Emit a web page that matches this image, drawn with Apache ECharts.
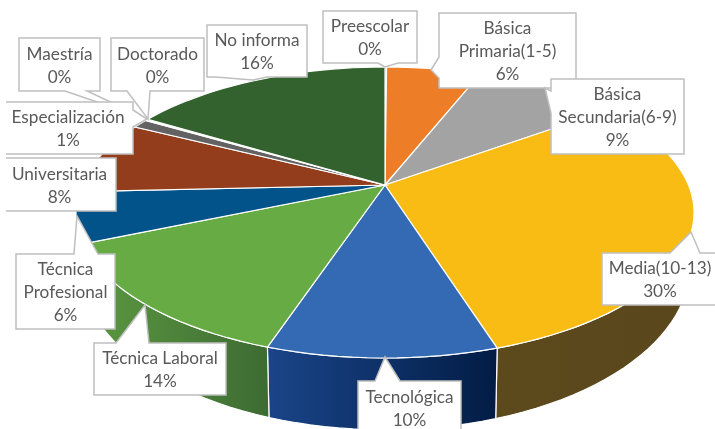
<!DOCTYPE html>
<html>
<head>
<meta charset="utf-8">
<style>
  html, body { margin: 0; padding: 0; background: #fff; }
  #main { width: 715px; height: 429px; }
</style>
<script src="https://cdn.jsdelivr.net/npm/echarts@6/dist/echarts.min.js"></script>
</head>
<body>
<div id="main"></div>
<script>
// valores (los rotulos redondean a entero)
var categories = ['Preescolar', 'Básica Primaria(1-5)', 'Básica Secundaria(6-9)', 'Media(10-13)', 'Tecnológica', 'Técnica Laboral', 'Técnica Profesional', 'Universitaria', 'Especialización', 'Maestría', 'Doctorado', 'No informa'];
var values = [0.1, 5.9, 9, 30.1, 10.05, 13.5, 5.6, 8.15, 1, 0.1, 0.1, 16.4];
var labelLines = [['Preescolar'], ['Básica', 'Primaria(1-5)'], ['Básica', 'Secundaria(6-9)'], ['Media(10-13)'], ['Tecnológica'], ['Técnica Laboral'], ['Técnica', 'Profesional'], ['Universitaria'], ['Especialización'], ['Maestría'], ['Doctorado'], ['No informa']];
var colors = ['#5b9bd5', '#ed7d26', '#a3a3a3', '#f9bc15', '#336ab3', '#67ab45', '#02538a', '#933d1c', '#636363', '#997300', '#264478', '#33622f'];
// [izquierda, derecha] del degradado de la cara lateral
var sideColors = [null, null, null, ['#5c4a1d', '#5a471c'], ['#1a4589', '#021c45'], ['#5c9a41', '#3d6b33'], null, null, null, null, null, null];

// caja del rotulo [x0, y0, x1, y1] y pico de la flecha [base1, punta, base2]
var boxes = [
  [323, 11, 417, 63], [439, 13, 576, 88], [551, 79, 684, 154], [602, 253, 718, 305],
  [358, 381, 461, 435], [94, 343, 226, 395], [16, 254, 115, 329], [3, 158, 116, 211],
  [3, 102, 133, 154], [19, 38, 100, 91], [111, 38, 204, 91], [207, 25, 307, 77]
];
var pointers = [
  [[378, 63], [385, 67], [398, 63]],
  [[439, 57], [431, 70], [439, 78]],
  [[551, 91], [545, 88], [551, 113]],
  [[670, 253], [691, 232], [700, 253]],
  [[375, 381], [385, 357], [400, 381]],
  [[116, 343], [145, 305], [149, 343]],
  [[74, 254], [77, 216], [98, 254]],
  null,
  [[133, 110], [147, 119], [133, 127]],
  [[65, 91], [147, 119], [87, 91]],
  [[127, 91], [148, 119], [150, 91]],
  [[215, 77], [253, 80], [267, 77]]
];
// orden de dibujo de los rotulos (Especializacion encima de las flechas de arriba)
var labelOrder = [9, 10, 8, 7, 11, 0, 1, 2, 3, 4, 6, 5];

// proyeccion en perspectiva del circulo: cara superior y base
var topFace = { cx: 385, cy: 185, a: 303.5, b: 140.3, k: 0.189 };
var baseFace = { cx: 385, cy: 235, a: 299.5, b: 158, k: 0.189 };

var total = values.reduce(function (s, v) { return s + v; }, 0);
var starts = [];
var acc = 0;
values.forEach(function (v) {
  starts.push(acc);
  acc += v;
});

function project(face, pct) {
  var t = pct / total * Math.PI * 2;
  var x = Math.sin(t), y = Math.cos(t);
  var w = 1 + face.k * y;
  return [face.cx + face.a * x / w, face.cy - face.b * y / w];
}

function arc(face, from, to) {
  var pts = [];
  var n = Math.max(2, Math.ceil((to - from) * 1.5));
  for (var i = 0; i <= n; i++) {
    pts.push(project(face, from + (to - from) * i / n));
  }
  return pts;
}

function renderSide(params, api) {
  var i = params.dataIndex;
  var c = sideColors[i];
  if (!c) return null;
  var from = api.value(0), to = api.value(1);
  var top = arc(topFace, from, to);
  var base = arc(baseFace, from, to).reverse();
  var all = top.concat(base);
  var xs = all.map(function (p) { return p[0]; });
  var x0 = Math.min.apply(null, xs), x1 = Math.max.apply(null, xs);
  return {
    type: 'polygon',
    shape: { points: all },
    style: {
      fill: new echarts.graphic.LinearGradient(x0, 0, x1, 0, [
        { offset: 0, color: c[0] }, { offset: 1, color: c[1] }
      ], true),
      stroke: '#fff',
      lineWidth: 1.2
    }
  };
}

function renderTop(params, api) {
  var i = params.dataIndex;
  var pts = [[topFace.cx, topFace.cy]].concat(arc(topFace, api.value(0), api.value(1)));
  return {
    type: 'polygon',
    shape: { points: pts },
    style: { fill: colors[i], stroke: '#fff', lineWidth: 1.2 }
  };
}

function renderLabel(params, api) {
  var i = labelOrder[params.dataIndex];
  var b = boxes[i];
  var p = pointers[i];
  var pts = [[b[0], b[1]], [b[2], b[1]], [b[2], b[3]], [b[0], b[3]]];
  if (p) {
    // se inserta la flecha en el lado donde cae su base
    if (p[0][1] === b[1]) pts = [[b[0], b[1]], p[0], p[1], p[2], [b[2], b[1]], [b[2], b[3]], [b[0], b[3]]];
    else if (p[0][1] === b[3]) pts = [[b[0], b[1]], [b[2], b[1]], [b[2], b[3]], p[2], p[1], p[0], [b[0], b[3]]];
    else if (p[0][0] === b[0]) pts = [[b[0], b[1]], [b[2], b[1]], [b[2], b[3]], [b[0], b[3]], p[2], p[1], p[0]];
    else pts = [[b[0], b[1]], [b[2], b[1]], p[0], p[1], p[2], [b[2], b[3]], [b[0], b[3]]];
  }
  var txt = labelLines[i].concat([Math.round(values[i]) + '%']).join('\n');
  return {
    type: 'group',
    children: [{
      type: 'polygon',
      shape: { points: pts },
      style: { fill: '#fff', stroke: '#bfbfbf', lineWidth: 1.5 }
    }, {
      type: 'text',
      style: {
        text: txt,
        x: (b[0] + b[2]) / 2,
        y: (b[1] + b[3]) / 2 + 1,
        align: 'center',
        verticalAlign: 'middle',
        fill: '#595959',
        font: '17.2px Lato',
        lineHeight: 23
      }
    }]
  };
}

var sliceData = categories.map(function (name, i) {
  return { name: name, value: [starts[i], starts[i] + values[i]] };
});

var chart = echarts.init(document.getElementById('main'), null, { renderer: 'canvas' });
chart.setOption({
  animation: false,
  backgroundColor: '#fff',
  series: [
    { type: 'custom', coordinateSystem: 'none', silent: true, z: 1, renderItem: renderSide, data: sliceData },
    { type: 'custom', coordinateSystem: 'none', silent: true, z: 2, renderItem: renderTop, data: sliceData },
    { type: 'custom', coordinateSystem: 'none', silent: true, z: 3, renderItem: renderLabel, data: labelOrder.map(function (k) { return { name: categories[k], value: [k] }; }) }
  ],
  graphic: [{
    // el recorte de la imagen se come el borde izquierdo de dos rotulos
    type: 'rect', z: 10, silent: true,
    shape: { x: 0, y: 95, width: 6, height: 125 },
    style: { fill: '#fff' }
  }]
});
</script>
</body>
</html>
